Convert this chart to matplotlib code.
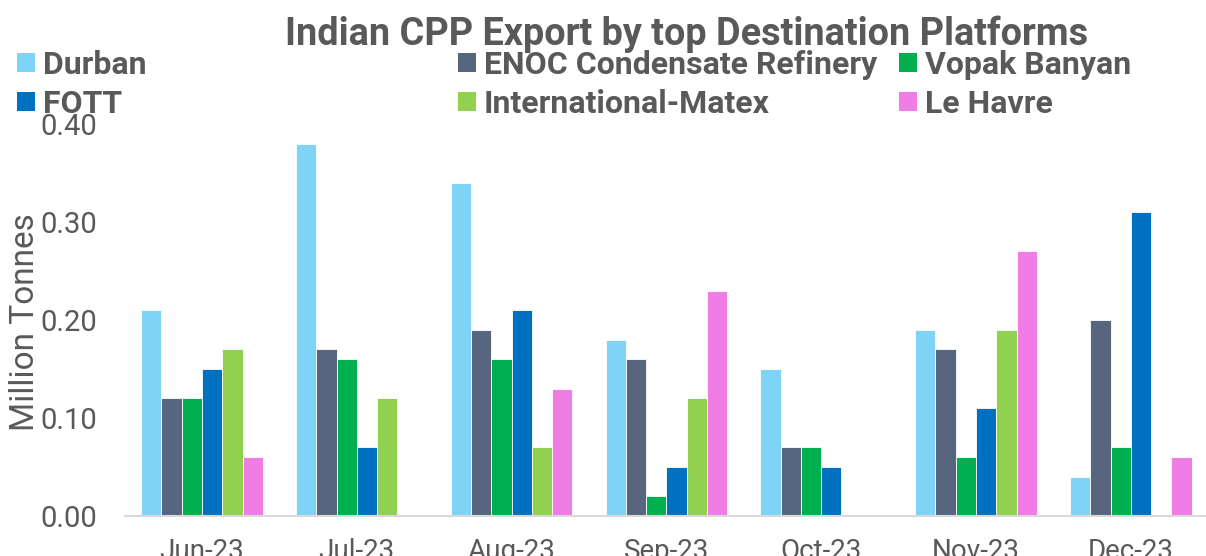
import matplotlib
matplotlib.use("Agg")
import matplotlib.pyplot as plt
from matplotlib.patches import Patch
import numpy as np

plt.rcParams['font.family'] = ['Roboto', 'DejaVu Sans']

months = ["Jun-23", "Jul-23", "Aug-23", "Sep-23", "Oct-23", "Nov-23", "Dec-23"]
durban = [0.21, 0.38, 0.34, 0.18, 0.15, 0.19, 0.04]
enoc = [0.12, 0.17, 0.19, 0.16, 0.07, 0.17, 0.20]
vopak = [0.12, 0.16, 0.16, 0.02, 0.07, 0.06, 0.07]
fott = [0.15, 0.07, 0.21, 0.05, 0.05, 0.11, 0.31]
matex = [0.17, 0.12, 0.07, 0.12, 0.00, 0.19, 0.00]
lehavre = [0.06, 0.00, 0.13, 0.23, 0.00, 0.27, 0.06]

series_names = ["Durban", "ENOC Condensate Refinery", "Vopak Banyan",
                "FOTT", "International-Matex", "Le Havre"]
series_vals = [durban, enoc, vopak, fott, matex, lehavre]
colors = ["#7FD3F7", "#58657F", "#00AF50", "#0070C0", "#92D050", "#F07CE6"]

TXT = "#595959"
W, H = 1206, 556

fig = plt.figure(figsize=(W / 100, H / 100), dpi=100)
ax_left, ax_w = 124.6, 1083.6
ax = fig.add_axes([ax_left / W, 1 - 516 / H, ax_w / W, (516 - 124) / H])

x = np.arange(len(months))
w = 0.131
for i, (vals, c) in enumerate(zip(series_vals, colors)):
    ax.bar(x + (i - 2.5) * w, vals, width=w, color=c, edgecolor="white",
           linewidth=0.6, zorder=2)

ax.set_ylim(0, 0.40)
ax.set_xlim(-0.5, 6.5)
ax.set_yticks([0.0, 0.1, 0.2, 0.3, 0.4])
ax.set_yticklabels(["0.00", "0.10", "0.20", "0.30", "0.40"])
ax.set_xticks(x)
ax.set_xticklabels(months)
ax.tick_params(axis='both', length=0, colors=TXT)
ax.tick_params(axis='y', pad=20, labelsize=21)
ax.tick_params(axis='x', pad=15.5, labelsize=20)
for s in ["top", "right", "left"]:
    ax.spines[s].set_visible(False)
ax.spines["bottom"].set_color("#D9D9D9")
ax.spines["bottom"].set_linewidth(1.5)

fig.text(25 / W, 1 - 322 / H, "Million Tonnes", rotation=90, ha="center",
         va="center", fontsize=24, color=TXT)

fig.text(687 / W, 1 - 45 / H, "Indian CPP Export by top Destination Platforms",
         ha="center", va="baseline", fontsize=27.3, fontweight="bold", color=TXT)

cols = [(0, 3), (1, 4), (2, 5)]
xs = [17, 458, 899]
for (a, b), xp in zip(cols, xs):
    handles = [Patch(facecolor=colors[a], edgecolor="none"),
               Patch(facecolor=colors[b], edgecolor="none")]
    leg = fig.legend(handles, [series_names[a], series_names[b]],
                     loc="upper left", bbox_to_anchor=(xp / W, 1 - 50 / H),
                     frameon=False, fontsize=23, handlelength=0.56,
                     handleheight=0.56, handletextpad=0.25, labelspacing=0.28,
                     borderpad=0, borderaxespad=0)
    for t in leg.get_texts():
        t.set_color(TXT)
        t.set_fontweight("bold")

fig.savefig("out.png", dpi=100)
